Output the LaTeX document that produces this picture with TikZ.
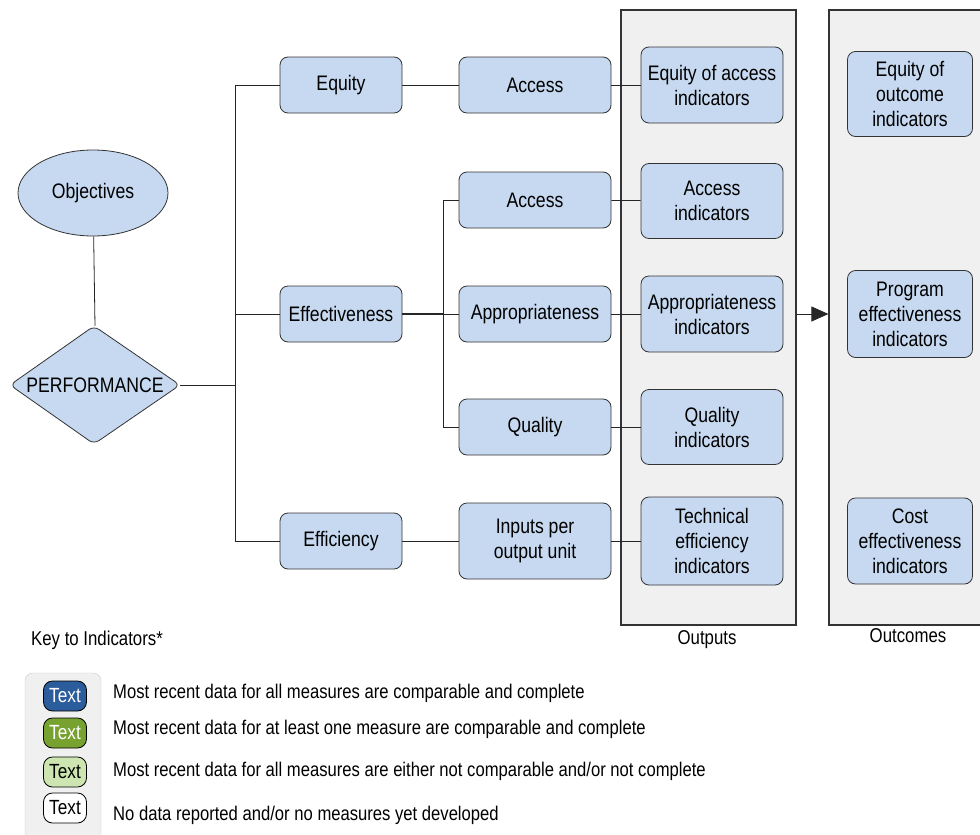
\documentclass[tikz,border=0pt]{standalone}
\usepackage{fontspec}
\setmainfont{Liberation Sans}[FakeStretch=0.84]
\usetikzlibrary{shapes.geometric,arrows.meta}
\definecolor{boxblue}{HTML}{C6D9F0}
\definecolor{panelgray}{HTML}{F0F0F0}
\definecolor{keyblue}{HTML}{2B5C9B}
\definecolor{keygreen}{HTML}{77A22F}
\definecolor{keylight}{HTML}{CDE6B1}
\tikzset{
  box/.style={draw=black!80, fill=boxblue, rounded corners=8pt, align=center,
    inner sep=2pt, line width=0.8pt, font=\fontsize{21}{25}\selectfont},
  panel/.style={draw=black!80, fill=panelgray, line width=1.2pt, inner sep=0pt},
  chip/.style={draw=black, rounded corners=9pt, minimum width=43pt, minimum height=30pt,
    inner sep=0pt, line width=0.8pt, font=\fontsize{20.5}{24}\selectfont},
  keytext/.style={anchor=west, inner sep=0pt, font=\fontsize{19.8}{24}\selectfont},
  link/.style={draw=black!85, line width=0.8pt}
}
\begin{document}
\begin{tikzpicture}[x=1pt,y=-1pt]
	      \clip (0,0) rectangle (980,835);
	      \fill[white] (0,0) rectangle (980,835);
	      % panels
	      \node[panel, minimum width=175pt, minimum height=615pt] (outputs) at (708.5,317.5) {};
	      \node[panel, minimum width=200pt, minimum height=615pt] (outcomes) at (929,317.5) {};
	      \node[font=\fontsize{20}{24}\selectfont] (outlabel) at (707,640) {Outputs};
	      \node[font=\fontsize{20}{24}\selectfont] (outclabel) at (908,636) {Outcomes};
	      % left part
	      \node[ellipse, draw=black!80, fill=boxblue, line width=0.8pt, minimum width=150pt,
	        minimum height=86pt, font=\fontsize{21}{25}\selectfont] (objectives) at (93,193) {Objectives};
	      \draw[draw=black!80, fill=boxblue, line width=0.8pt, rounded corners=6pt]
	        (94,326) -- (180,385) -- (94,444) -- (10,385) -- cycle;
	      \node[minimum width=170pt, minimum height=118pt, inner sep=0pt,
	        font=\fontsize{21}{25}\selectfont] (perf) at (95,385) {PERFORMANCE};
	      \node[box, minimum width=122pt, minimum height=56pt] (equity) at (341,85) {Equity};
	      \node[box, minimum width=122pt, minimum height=56pt] (effect) at (341,314) {Effectiveness};
	      \node[box, minimum width=122pt, minimum height=56pt] (effic) at (341,541) {Efficiency};
	      \node[box, minimum width=152pt, minimum height=56pt] (access1) at (535,85) {Access};
	      \node[box, minimum width=152pt, minimum height=56pt] (access2) at (535,200) {Access};
	      \node[box, minimum width=152pt, minimum height=56pt] (approp) at (535,314) {Appropriateness};
	      \node[box, minimum width=152pt, minimum height=56pt] (quality) at (535,427) {Quality};
	      \node[box, minimum width=152pt, minimum height=76pt] (inputs) at (535,541) {Inputs per\\output unit};
	      % indicators
	      \node[box, minimum width=142pt, minimum height=76pt] (eqaccind) at (712,85) {Equity of access\\indicators};
	      \node[box, minimum width=142pt, minimum height=75pt] (accind) at (712,201) {Access\\indicators};
	      \node[box, minimum width=142pt, minimum height=76pt] (appind) at (712,314) {Appropriateness\\indicators};
	      \node[box, minimum width=142pt, minimum height=75pt] (qualind) at (712,427) {Quality\\indicators};
	      \node[box, minimum width=142pt, minimum height=88pt] (techind) at (712,541) {Technical\\efficiency\\indicators};
	      \node[box, minimum width=125pt, minimum height=85pt] (eqoutind) at (910,94) {Equity of\\outcome\\indicators};
	      \node[box, minimum width=125pt, minimum height=87pt] (progind) at (910,314) {Program\\effectiveness\\indicators};
	      \node[box, minimum width=125pt, minimum height=86pt] (costind) at (910,541) {Cost\\effectiveness\\indicators};
	      % connectors
	      \coordinate (busA) at (235,0);
	      \coordinate (busB) at (443,0);
	      \draw[link] (objectives) -- (perf.north);
	      \draw[link] (perf.east) -- (perf.east -| busA);
	      \draw[link] (equity.west) -| (busA |- effic.west) -- (effic.west);
	      \draw[link] (effect.west) -- (effect.west -| busA);
	      \draw[link] (access2.west) -| (busB |- quality.west) -- (quality.west);
	      \draw[link] (approp.west) -- (approp.west -| busB);
	      \draw[link, line width=1.6pt] (effect.east) -- (effect.east -| busB);
	      \draw[link] (equity) -- (access1) -- (eqaccind);
	      \draw[link] (access2) -- (accind);
	      \draw[link] (approp) -- (appind);
	      \draw[link] (quality) -- (qualind);
	      \draw[link] (effic) -- (inputs) -- (techind);
	      \draw[link, -{Triangle[length=17pt,width=15pt]}] (outputs.east |- approp) -- (outcomes.west |- approp);
	      % key
	      \node[anchor=west, inner sep=0pt, font=\fontsize{20}{24}\selectfont] (keytitle) at (31,640) {Key to Indicators*};
	      \node[draw=black!20, fill=panelgray, rounded corners=8pt, minimum width=76pt,
	        minimum height=190pt, inner sep=0pt] (keybox) at (63,768) {};
	      \node[chip, fill=keyblue, text=white] (chipA) at (65,696) {Text};
	      \node[chip, fill=keygreen, text=white] (chipB) at (65,733) {Text};
	      \node[chip, fill=keylight] (chipC) at (65,772) {Text};
	      \node[chip, fill=white] (chipD) at (65,808) {Text};
	      \node[keytext] (keyA) at (113,693) {Most recent data for all measures are comparable and complete};
	      \node[keytext] (keyB) at (113,729) {Most recent data for at least one measure are comparable and complete};
	      \node[keytext] (keyC) at (113,771) {Most recent data for all measures are either not comparable and/or not complete};
	      \node[keytext] (keyD) at (113,815) {No data reported and/or no measures yet developed};
	  \end{tikzpicture}
\end{document}
